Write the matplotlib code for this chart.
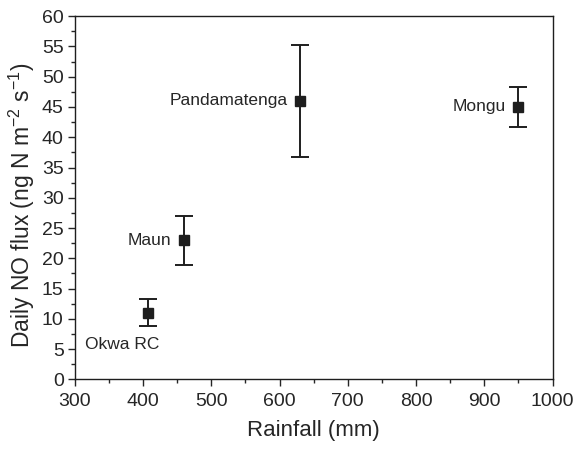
import matplotlib.pyplot as plt
from matplotlib.ticker import MultipleLocator

plt.rcParams['font.family'] = ['Liberation Sans', 'DejaVu Sans']
plt.rcParams['mathtext.fontset'] = 'custom'
plt.rcParams['mathtext.rm'] = 'Liberation Sans'
plt.rcParams['mathtext.it'] = 'Liberation Sans:italic'

# Site data: rainfall vs. mean daily NO flux with error ranges
sites = ['Okwa RC', 'Maun', 'Pandamatenga', 'Mongu']
rainfall = [407, 460, 630, 950]
flux = [11.0, 23.0, 46.0, 45.0]
flux_low = [8.8, 18.9, 36.7, 41.7]
flux_high = [13.2, 27.0, 55.3, 48.3]

# label offsets (points) relative to each marker
label_offsets = {
    'Okwa RC': (8, -23),
    'Maun': (-9, 0),
    'Pandamatenga': (-9, 0),
    'Mongu': (-9, 0),
}

fig = plt.figure(figsize=(5.75, 4.49), dpi=100)
ax = fig.add_axes([0.130, 0.155, 0.831, 0.809])

ink = '#1e1e1e'
yerr = [[f - lo for f, lo in zip(flux, flux_low)],
        [hi - f for f, hi in zip(flux, flux_high)]]
ax.errorbar(rainfall, flux, yerr=yerr, fmt='s', color=ink, ms=7,
            ecolor=ink, elinewidth=1.4, capsize=6.5, capthick=1.4)

for name, x, y in zip(sites, rainfall, flux):
    ax.annotate(name, (x, y), xytext=label_offsets[name],
                textcoords='offset points', ha='right', va='center',
                fontsize=12.5, color='#262626')

ax.set_xlim(300, 1000)
ax.set_ylim(0, 60)
ax.xaxis.set_major_locator(MultipleLocator(100))
ax.xaxis.set_minor_locator(MultipleLocator(50))
ax.yaxis.set_major_locator(MultipleLocator(5))
ax.yaxis.set_minor_locator(MultipleLocator(2.5))
ax.tick_params(which='major', length=5, width=1, labelsize=14, colors='#262626')
ax.tick_params(which='minor', length=3, width=1, colors='#262626')
ax.tick_params(axis='x', pad=5)
ax.tick_params(axis='y', pad=3)
for sp in ax.spines.values():
    sp.set_linewidth(1.0)
    sp.set_color(ink)

ax.set_xlabel('Rainfall (mm)', fontsize=16, color='#262626', labelpad=7)
ax.set_ylabel('Daily NO flux (ng N m$^{-2}$ s$^{-1}$)', fontsize=16.5,
              color='#262626')
ax.yaxis.set_label_coords(-0.079, 0.48)

fig.savefig('out.png', dpi=100)
